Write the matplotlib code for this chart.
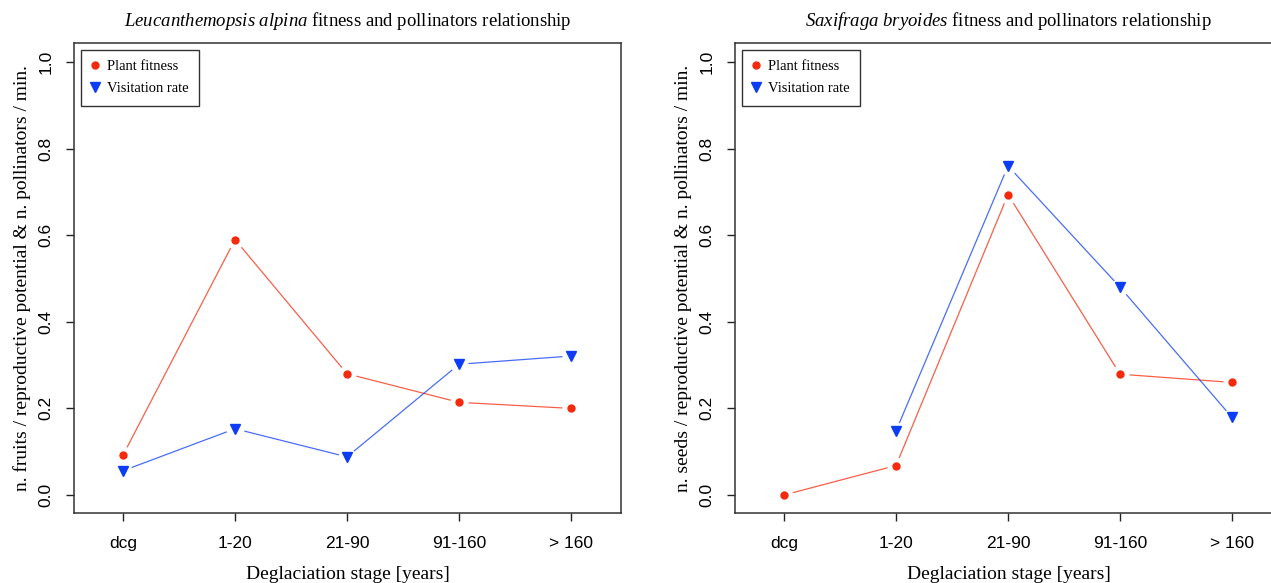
import matplotlib
matplotlib.use("Agg")
from matplotlib import pyplot as plt
from matplotlib.lines import Line2D

# data
stages = ["dcg", "1-20", "21-90", "91-160", "> 160"]
leuc_fitness = [0.092, 0.590, 0.280, 0.214, 0.200]
leuc_visits = [0.056, 0.153, 0.088, 0.302, 0.321]
saxi_fitness = [0.000, 0.068, 0.694, 0.279, 0.260]
saxi_visits = [None, 0.148, 0.760, 0.480, 0.179]

RED = "#f52a0c"
BLUE = "#0d3cf5"

plt.rcParams["font.family"] = ["Liberation Serif", "DejaVu Serif"]
plt.rcParams["mathtext.fontset"] = "custom"
plt.rcParams["mathtext.rm"] = "Liberation Serif"
plt.rcParams["mathtext.it"] = "Liberation Serif:italic"

W, H = 1271, 583
fig = plt.figure(figsize=(W / 100, H / 100), dpi=100)


def px_axes(left, top, width, height):
    return fig.add_axes([left / W, (H - top - height) / H, width / W, height / H])


def series(ax, values, color, marker, ms):
    xs = [i + 1 for i, v in enumerate(values) if v is not None]
    ys = [v for v in values if v is not None]
    ax.plot(xs, ys, color=color, lw=0.9, alpha=0.75, zorder=2)
    # white halo to mimic R's type="b" gaps
    ax.plot(xs, ys, ls="none", marker="o", ms=13, mfc="white", mec="none", zorder=3)
    ax.plot(xs, ys, ls="none", marker=marker, ms=ms, mfc=color, mec=color, zorder=4)


def panel(ax, fit, vis, species, ylabel):
    series(ax, fit, RED, "o", 5)
    series(ax, vis, BLUE, "v", 7.5)
    ax.set_xlim(0.5625, 5.446)
    ax.set_ylim(-0.0416, 1.044)
    ax.set_xticks(range(1, 6))
    ax.set_xticklabels(stages, fontfamily="Liberation Sans", fontsize=12.5)
    ax.set_yticks([0, 0.2, 0.4, 0.6, 0.8, 1.0])
    ax.set_yticklabels(["0.0", "0.2", "0.4", "0.6", "0.8", "1.0"],
                       fontfamily="Liberation Sans", fontsize=12.5,
                       rotation=90, va="center")
    ax.tick_params(direction="out", length=6, width=1, color="#222222")
    ax.tick_params(axis="x", pad=10.5)
    ax.tick_params(axis="y", pad=8.5)
    for s in ax.spines.values():
        s.set_color("#333333")
        s.set_linewidth(1.1)
    ax.set_xlabel("Deglaciation stage [years]", fontsize=14, labelpad=11)
    ax.set_ylabel(ylabel, fontsize=14, labelpad=6)
    ax.set_title(r"$\mathit{" + species.replace(" ", r"\ ") + "}$ fitness and pollinators relationship",
                 fontsize=13.5, pad=12)
    handles = [
        Line2D([], [], ls="none", marker="o", ms=5, color=RED),
        Line2D([], [], ls="none", marker="v", ms=7.5, color=BLUE),
    ]
    leg = ax.legend(handles, ["Plant fitness", "Visitation rate"], loc="upper left",
                    bbox_to_anchor=(0.012, 0.985), fontsize=10.5, fancybox=False,
                    framealpha=1, edgecolor="#333333", handlelength=0.6,
                    handletextpad=0.5, borderpad=0.7, labelspacing=0.6,
                    borderaxespad=0)
    leg.get_frame().set_linewidth(1)


ax1 = px_axes(74, 43, 547, 470)
panel(ax1, leuc_fitness, leuc_visits, "Leucanthemopsis alpina",
      "n. fruits / reproductive potential & n. pollinators / min.")

ax2 = px_axes(735, 43, 547, 470)
panel(ax2, saxi_fitness, saxi_visits, "Saxifraga bryoides",
      "n. seeds / reproductive potential & n. pollinators / min.")

fig.savefig("out.png", dpi=100)
